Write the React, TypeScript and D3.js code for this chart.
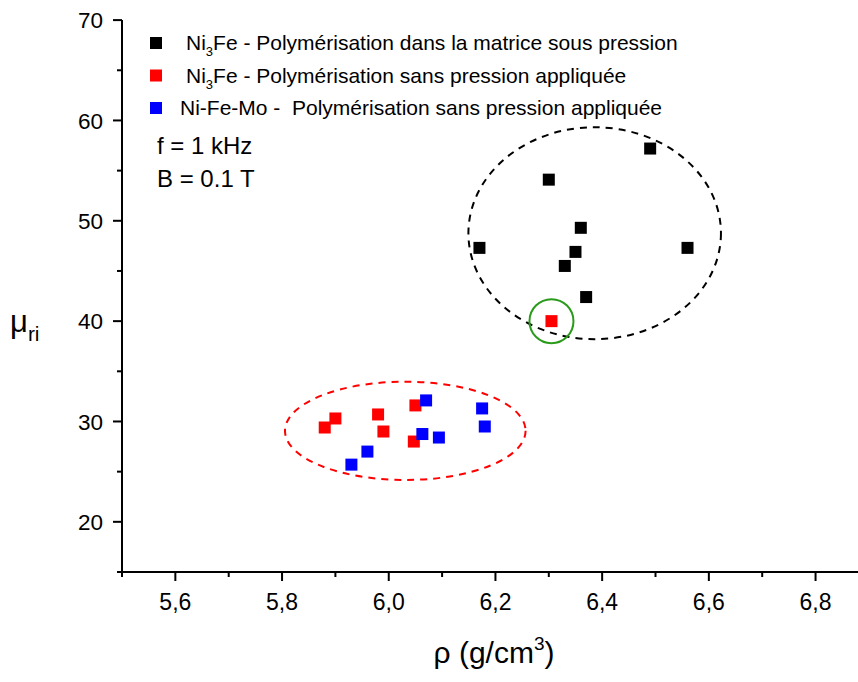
import React from "react";
import * as d3 from "d3";

const W = 858;
const H = 682;

// Data
const blackX = [6.49, 6.30, 6.36, 6.17, 6.56, 6.35, 6.33, 6.37];
const blackY = [57.2, 54.1, 49.3, 47.3, 47.3, 46.9, 45.5, 42.4];
const redX = [5.88, 5.90, 5.98, 5.99, 6.05, 6.047, 6.305];
const redY = [29.4, 30.3, 30.7, 29.0, 31.6, 28.0, 40.0];
const blueX = [6.07, 6.063, 6.094, 6.175, 6.18, 5.96, 5.93];
const blueY = [32.1, 28.75, 28.4, 31.3, 29.5, 27.0, 25.7];

const legendLabels = [
  { main: "Ni", sub: "3", rest: "Fe - Polymérisation dans la matrice sous pression", color: "#000000" },
  { main: "Ni", sub: "3", rest: "Fe - Polymérisation sans pression appliquée", color: "#ff0000" },
  { main: "Ni-Fe-Mo -  Polymérisation sans pression appliquée", sub: "", rest: "", color: "#0000ff" },
];

const xMajorTicks = [5.6, 5.8, 6.0, 6.2, 6.4, 6.6, 6.8];
const xMinorTicks = [5.5, 5.7, 5.9, 6.1, 6.3, 6.5, 6.7];
const yMajorTicks = [20, 30, 40, 50, 60, 70];
const yMinorTicks = [15, 25, 35, 45, 55, 65];

// annotation ellipses (data units)
const blackEllipse = { cx: 6.386, cy: 48.76, rx: 0.2367, ry: 10.56 };
const redEllipse = { cx: 6.031, cy: 29.07, rx: 0.2255, ry: 4.9 };
const greenCircle = { cx: 6.305, cy: 40.0 };

const FONT = "Arial, 'Liberation Sans', sans-serif";

export default function App() {
  const x = d3.scaleLinear().domain([5.5, 6.9]).range([122, 868.9]);
  const y = d3.scaleLinear().domain([15, 70]).range([572, 20.1]);
  const fmt = (v: number) => v.toFixed(1).replace(".", ",");
  const S = 12;

  const series = [
    { xs: blackX, ys: blackY, color: "#000000" },
    { xs: redX, ys: redY, color: "#ff0000" },
    { xs: blueX, ys: blueY, color: "#0000ff" },
  ];

  const ell = (e: { cx: number; cy: number; rx: number; ry: number }) => ({
    cx: x(e.cx),
    cy: y(e.cy),
    rx: x(e.cx + e.rx) - x(e.cx),
    ry: y(e.cy) - y(e.cy + e.ry),
  });
  const be = ell(blackEllipse);
  const re = ell(redEllipse);

  return (
    <svg
      width={W}
      height={H}
      style={{ position: "absolute", left: 0, top: 0, background: "#fff" }}
      fontFamily={FONT}
    >
      <rect width={W} height={H} fill="#fff" />
      {/* axes */}
      <line x1={122} x2={122} y1={y(70)} y2={573} stroke="#000" strokeWidth={2} />
      <line x1={121} x2={W} y1={572} y2={572} stroke="#000" strokeWidth={2} />
      {yMajorTicks.map((t) => (
        <g key={"ym" + t}>
          <line x1={113} x2={122} y1={y(t)} y2={y(t)} stroke="#000" strokeWidth={2} />
          <text x={103} y={y(t)} dy="0.36em" textAnchor="end" fontSize={22.5}>
            {t}
          </text>
        </g>
      ))}
      {yMinorTicks.map((t) => (
        <line key={"yn" + t} x1={117} x2={122} y1={y(t)} y2={y(t)} stroke="#000" strokeWidth={2} />
      ))}
      {xMajorTicks.map((t) => (
        <g key={"xm" + t}>
          <line x1={x(t)} x2={x(t)} y1={572} y2={581} stroke="#000" strokeWidth={2} />
          <text x={x(t)} y={610} textAnchor="middle" fontSize={23}>
            {fmt(t)}
          </text>
        </g>
      ))}
      {xMinorTicks.map((t) => (
        <line key={"xn" + t} x1={x(t)} x2={x(t)} y1={572} y2={577} stroke="#000" strokeWidth={2} />
      ))}

      {/* axis labels */}
      <text x={494} y={663} textAnchor="middle" fontSize={30}>
        ρ (g/cm<tspan dy={-13} fontSize={19}>3</tspan>
        <tspan dy={13}>)</tspan>
      </text>
      <text x={10} y={332} fontSize={31}>
        μ<tspan dy={9} fontSize={21}>ri</tspan>
      </text>

      {/* ellipses */}
      <ellipse cx={be.cx} cy={be.cy} rx={be.rx} ry={be.ry} fill="none" stroke="#000" strokeWidth={2} strokeDasharray="7,6" />
      <ellipse cx={re.cx} cy={re.cy} rx={re.rx} ry={re.ry} fill="none" stroke="#ff0000" strokeWidth={2} strokeDasharray="7,6" />
      <circle cx={x(greenCircle.cx)} cy={y(greenCircle.cy)} r={22} fill="none" stroke="#2a9a1a" strokeWidth={2} />

      {/* points */}
      {series.map((s, si) =>
        s.xs.map((v, i) => (
          <rect
            key={si + "-" + i}
            x={x(v) - S / 2}
            y={y(s.ys[i]) - S / 2}
            width={S}
            height={S}
            fill={s.color}
          />
        ))
      )}

      {/* legend */}
      {legendLabels.map((l, i) => {
        const cy = 43 + i * 32.5;
        return (
          <g key={"lg" + i}>
            <rect x={150} y={cy - 6} width={12} height={12} fill={l.color} />
            <text x={i < 2 ? 186 : 180} y={cy + 7} fontSize={21} style={{ whiteSpace: "pre" }}>
              {l.main}
              {l.sub ? (
                <tspan dy={6} fontSize={13}>
                  {l.sub}
                </tspan>
              ) : null}
              {l.rest ? <tspan dy={l.sub ? -6 : 0}>{l.rest}</tspan> : null}
            </text>
          </g>
        );
      })}
      <text x={157} y={154} fontSize={24}>f = 1 kHz</text>
      <text x={157} y={187} fontSize={24}>B = 0.1 T</text>
    </svg>
  );
}
